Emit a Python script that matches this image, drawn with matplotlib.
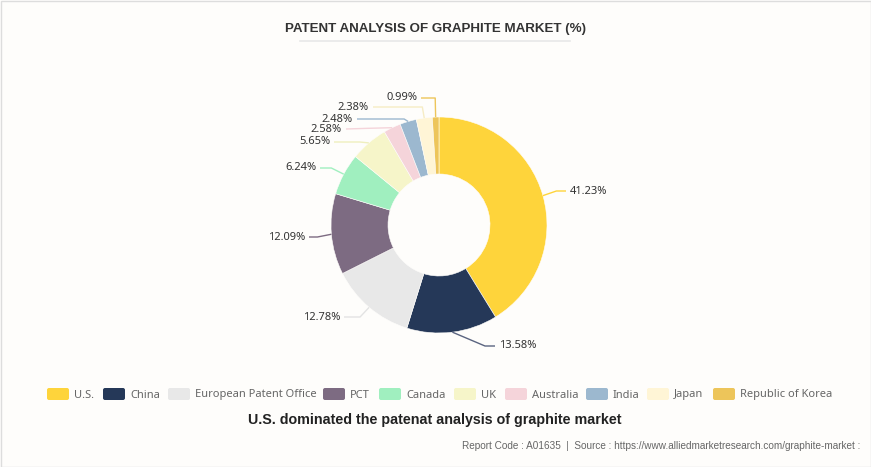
import numpy as np
import matplotlib
matplotlib.use("Agg")
import matplotlib.pyplot as plt
from matplotlib.patches import Rectangle, FancyBboxPatch

categories = ["U.S.", "China", "European Patent Office", "PCT", "Canada", "UK",
              "Australia", "India", "Japan", "Republic of Korea"]
shares = [41.23, 13.58, 12.78, 12.09, 6.24, 5.65, 2.58, 2.48, 2.38, 0.99]
colors = ["#fed43b", "#253858", "#e8e8e8", "#7d6b82", "#a0efbf", "#f6f5c9",
          "#f5d4da", "#9cb8cf", "#fff5d6", "#edc55a"]
line_colors = ["#fed43b", "#5a6480", "#e3e3e3", "#7d6b82", "#a0efbf", "#efefbe",
               "#f5d4da", "#9cb8cf", "#f6ecc4", "#edc55a"]

# label layout in pixels (x anchor, y from top, side, optional elbow x)
label_pos = [(570, 191, "l", None), (499, 346, "l", 485), (340, 317, "r", None),
             (305, 237, "r", None), (316, 168, "r", None), (330, 142, "r", None),
             (342, 129, "r", None), (353, 119, "r", None), (369, 107, "r", None),
             (417, 98, "r", None)]
# legend layout: box left edge in pixels
legend_x = [47, 103, 168, 323, 379, 454, 505, 586, 647, 713]

W, H = 871, 467
fig = plt.figure(figsize=(W / 100, H / 100), dpi=100)
fig.patch.set_facecolor("#fefdfb")
ax = fig.add_axes([0, 0, 1, 1])

cx, cy, R = 439, H - 225, 108
ax.pie(shares, colors=colors, startangle=90, counterclock=False,
       radius=R, center=(cx, cy), frame=True,
       wedgeprops=dict(width=57, edgecolor="#fefdfb", linewidth=0.4))
ax.set_xlim(0, W)
ax.set_ylim(0, H)
ax.set_aspect("equal")
ax.axis("off")

# leader lines + labels
cum = np.cumsum([0] + shares[:-1])
for v, c0, lc, (lx, ly, side, ex) in zip(shares, cum, line_colors, label_pos):
    ang = np.deg2rad(90 - (c0 + v / 2) * 3.6)
    x0, y0 = cx + R * np.cos(ang), cy + R * np.sin(ang)
    x1, y1 = cx + (R + 14) * np.cos(ang), cy + (R + 14) * np.sin(ang)
    yl = H - ly
    if abs(y1 - yl) < 12:
        y1 = yl
    else:
        x1, y1 = (x0 + lx) / 2, (y0 + yl) / 2
    if ex is not None:
        x1, y1 = ex, yl
    if side == "l":
        x2 = lx - 4
        ha = "left"
    else:
        x2 = lx + 4
        ha = "right"
    ax.plot([x0, x1, x2], [y0, y1, yl], color=lc, lw=1, solid_capstyle="butt")
    ax.text(lx, yl, f"{v:.2f}%", ha=ha, va="center", fontsize=8,
            color="#333333", family="Noto Sans")

# title
ax.text(435, H - 29, "PATENT ANALYSIS OF GRAPHITE MARKET (%)", ha="center",
        va="center", fontsize=9.6, fontweight="bold", color="#333333",
        family="Liberation Sans")
ax.plot([300, 570], [H - 41, H - 41], color="#e8e8e8", lw=1.2)

# legend
for name, c, bx in zip(categories, colors, legend_x):
    ax.add_patch(FancyBboxPatch((bx + 2, H - 400 + 2), 18, 8,
                                boxstyle="round,pad=2", facecolor=c, edgecolor=c, lw=0))
    ax.text(bx + 27, H - 395, name, ha="left", va="center", fontsize=8,
            color="#666666", family="Noto Sans")

ax.text(435, H - 420, "U.S. dominated the patenat analysis of graphite market",
        ha="center", va="center", fontsize=10.3, fontweight="bold",
        color="#222222", family="Liberation Sans")
ax.text(860, H - 446, "Report Code : A01635  |  Source : https://www.alliedmarketresearch.com/graphite-market :",
        ha="right", va="center", fontsize=7.2, color="#666666", family="Liberation Sans")

# border
ax.add_patch(Rectangle((0.5, 0.5), W - 1, H - 1, fill=False, edgecolor="#dddddd", lw=1))

fig.savefig("out.png", dpi=100, facecolor=fig.get_facecolor())
